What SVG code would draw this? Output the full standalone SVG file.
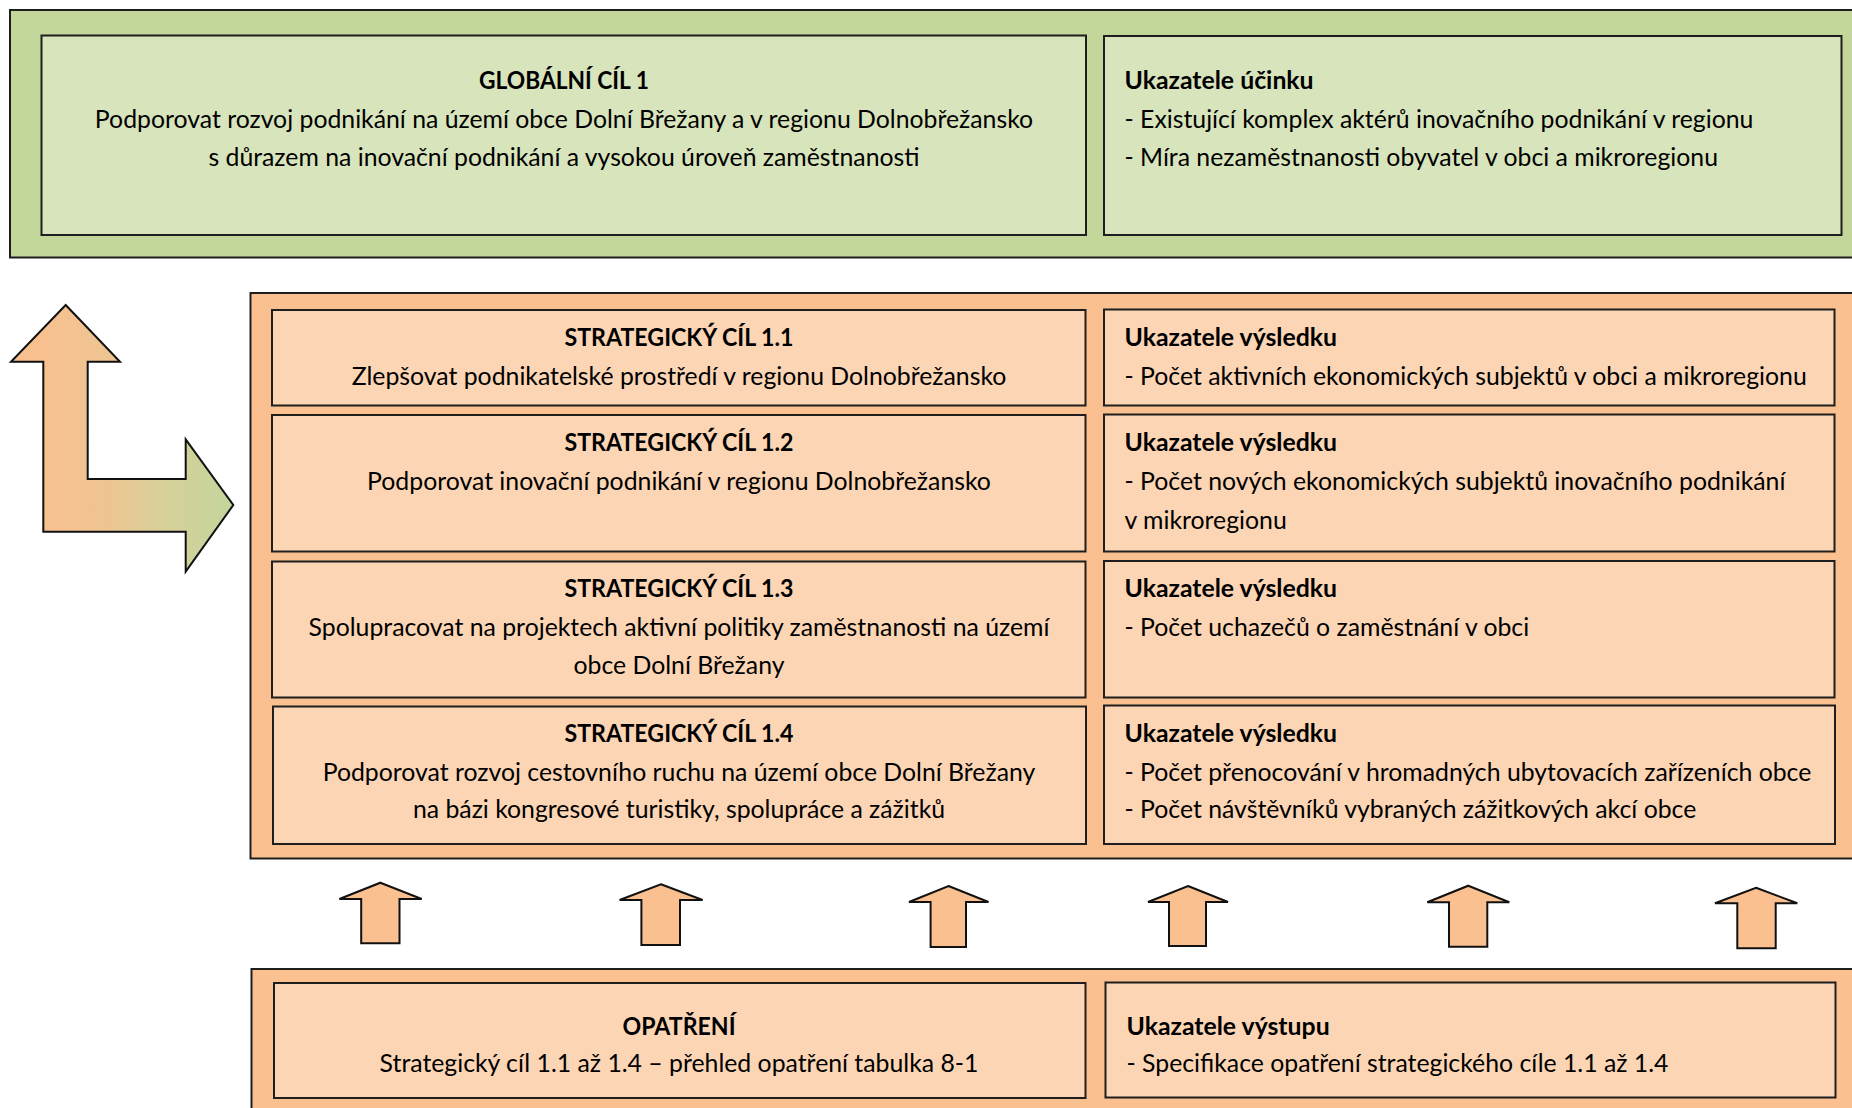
<svg xmlns="http://www.w3.org/2000/svg" width="1852" height="1108" viewBox="0 0 1852 1108">
<defs>
<linearGradient id="lg" gradientUnits="userSpaceOnUse" x1="43" y1="0" x2="233" y2="0">
<stop offset="0" stop-color="#f8c08f"/>
<stop offset="0.35" stop-color="#edc592"/>
<stop offset="0.6" stop-color="#d9cf98"/>
<stop offset="1" stop-color="#c2d69c"/>
</linearGradient>
<style>
.gO{fill:#c4d79b;stroke:#1e1e1e;stroke-width:2}
.gI{fill:#d8e4bc;stroke:#1e1e1e;stroke-width:2}
.oO{fill:#fac090;stroke:#1e1e1e;stroke-width:2}
.oI{fill:#fcd5b4;stroke:#1e1e1e;stroke-width:2}
.ar{fill:#fac090;stroke:#111;stroke-width:2;stroke-linejoin:miter}
text{font-family:Lato,"Open Sans","Liberation Sans",sans-serif;font-size:24.8px;fill:#000}
.b{font-weight:bold}
.c{text-anchor:middle}
</style>
</defs>
<rect x="0" y="0" width="1852" height="1108" fill="#fff"/>
<g id="global-panel">
<rect class="gO" x="10" y="10" width="1860" height="247.5"/>
</g>
<g id="global-goal">
<rect class="gI" x="41.5" y="35.5" width="1044.5" height="199.5"/>
<text class="b c" x="564" y="89" textLength="170" lengthAdjust="spacingAndGlyphs">GLOBÁLNÍ CÍL 1</text>
<text class="c" x="564" y="128">Podporovat rozvoj podnikání na území obce Dolní Břežany a v regionu Dolnobřežansko</text>
<text class="c" x="564" y="166">s důrazem na inovační podnikání a vysokou úroveň zaměstnanosti</text>
</g>
<g id="impact-indicators">
<rect class="gI" x="1104" y="36" width="737.5" height="199"/>
<text class="b" x="1124.5" y="89">Ukazatele účinku</text>
<text x="1124.5" y="128">- Existující komplex aktérů inovačního podnikání v regionu</text>
<text x="1124.5" y="166">- Míra nezaměstnanosti obyvatel v obci a mikroregionu</text>
</g>
<g id="strategic-panel">
<rect class="oO" x="250.5" y="293" width="1620" height="565.5"/>
</g>
<g id="sc11">
<rect class="oI" x="272" y="310" width="813.5" height="95.5"/>
<text class="b c" x="679" y="346" textLength="229" lengthAdjust="spacingAndGlyphs">STRATEGICKÝ CÍL 1.1</text>
<text class="c" x="679" y="385">Zlepšovat podnikatelské prostředí v regionu Dolnobřežansko</text>
</g>
<g id="ind11">
<rect class="oI" x="1104" y="309.5" width="730.5" height="96"/>
<text class="b" x="1124.5" y="346">Ukazatele výsledku</text>
<text x="1124.5" y="385">- Počet aktivních ekonomických subjektů v obci a mikroregionu</text>
</g>
<g id="sc12">
<rect class="oI" x="272" y="415" width="813.5" height="136.5"/>
<text class="b c" x="679" y="451" textLength="229" lengthAdjust="spacingAndGlyphs">STRATEGICKÝ CÍL 1.2</text>
<text class="c" x="679" y="490">Podporovat inovační podnikání v regionu Dolnobřežansko</text>
</g>
<g id="ind12">
<rect class="oI" x="1104" y="414.5" width="730.5" height="137"/>
<text class="b" x="1124.5" y="451">Ukazatele výsledku</text>
<text x="1124.5" y="490">- Počet nových ekonomických subjektů inovačního podnikání</text>
<text x="1124.5" y="529">v mikroregionu</text>
</g>
<g id="sc13">
<rect class="oI" x="272" y="561.5" width="813.5" height="136"/>
<text class="b c" x="679" y="597" textLength="229" lengthAdjust="spacingAndGlyphs">STRATEGICKÝ CÍL 1.3</text>
<text class="c" x="679" y="636">Spolupracovat na projektech aktivní politiky zaměstnanosti na území</text>
<text class="c" x="679" y="674">obce Dolní Břežany</text>
</g>
<g id="ind13">
<rect class="oI" x="1104" y="561" width="730.5" height="136.5"/>
<text class="b" x="1124.5" y="597">Ukazatele výsledku</text>
<text x="1124.5" y="636">- Počet uchazečů o zaměstnání v obci</text>
</g>
<g id="sc14">
<rect class="oI" x="273" y="706.5" width="813" height="137.5"/>
<text class="b c" x="679" y="742" textLength="229" lengthAdjust="spacingAndGlyphs">STRATEGICKÝ CÍL 1.4</text>
<text class="c" x="679" y="781">Podporovat rozvoj cestovního ruchu na území obce Dolní Břežany</text>
<text class="c" x="679" y="818">na bázi kongresové turistiky, spolupráce a zážitků</text>
</g>
<g id="ind14">
<rect class="oI" x="1104" y="705.5" width="731" height="138.5"/>
<text class="b" x="1124.5" y="742">Ukazatele výsledku</text>
<text x="1124.5" y="781">- Počet přenocování v hromadných ubytovacích zařízeních obce</text>
<text x="1124.5" y="818">- Počet návštěvníků vybraných zážitkových akcí obce</text>
</g>
<g id="measures-panel">
<rect class="oO" x="251.5" y="969" width="1620" height="160"/>
</g>
<g id="measures">
<rect class="oI" x="274" y="983" width="811.5" height="115"/>
<text class="b c" x="679" y="1035" textLength="113" lengthAdjust="spacingAndGlyphs">OPATŘENÍ</text>
<text class="c" x="679" y="1072">Strategický cíl 1.1 až 1.4 – přehled opatření tabulka 8-1</text>
</g>
<g id="output-indicators">
<rect class="oI" x="1105.5" y="982.5" width="730" height="115"/>
<text class="b" x="1126.5" y="1035">Ukazatele výstupu</text>
<text x="1126.5" y="1072">- Specifikace opatření strategického cíle 1.1 až 1.4</text>
</g>
<g id="connectors">
<path fill="url(#lg)" stroke="#111" stroke-width="2" d="M65.7,305 L120,361.7 L87.7,361.7 L87.7,479 L185.7,479 L185.7,439.3 L233.3,505 L185.7,571.7 L185.7,531.7 L43.3,531.7 L43.3,361.7 L11,361.7 Z"/>
<polygon class="ar" points="380.4,882.7 421.7,899 399.5,899 399.5,943.3 361.2,943.3 361.2,899 339.4,899"/>
<polygon class="ar" points="660.9,884.3 702.6,900 680,900 680,945 641.4,945 641.4,900 619.6,900"/>
<polygon class="ar" points="948.5,886 988.5,902 966,902 966,947 930.6,947 930.6,902 909,902"/>
<polygon class="ar" points="1188,886 1228,902 1206,902 1206,946 1169,946 1169,902 1148,902"/>
<polygon class="ar" points="1468.3,885.7 1509.3,902.3 1487.3,902.3 1487.3,946.7 1449,946.7 1449,902.3 1427.3,902.3"/>
<polygon class="ar" points="1756,887.7 1797.3,903.3 1775.7,903.3 1775.7,948.3 1737.3,948.3 1737.3,903.3 1715,903.3"/>
</g>
</svg>
